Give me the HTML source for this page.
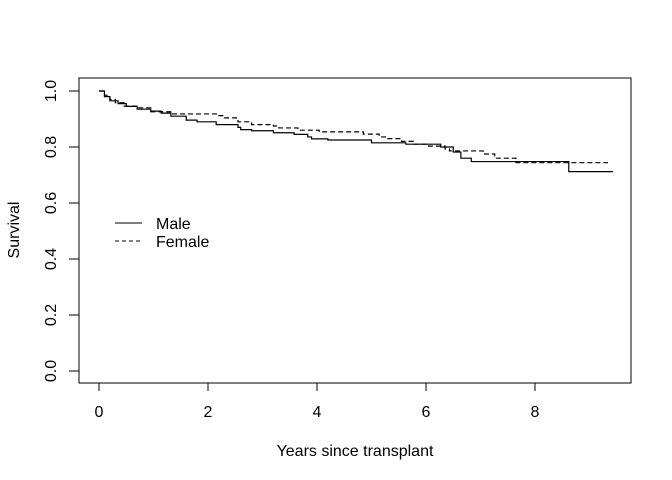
<!DOCTYPE html>
<html><head><meta charset="utf-8"><style>body{margin:0;background:#fff}svg{display:block}text{font-family:"Liberation Sans",Arial,sans-serif;font-size:16px;fill:#000}</style></head>
<body>
<svg id="chart" width="672" height="480" xmlns="http://www.w3.org/2000/svg">
<rect x="79" y="78" width="552" height="305" fill="none" stroke="#000"/>
<g id="axes"></g>
<g id="series"></g>
<text x="355" y="456" text-anchor="middle">Years since transplant</text>
<text transform="translate(19,230) rotate(-90)" text-anchor="middle">Survival</text>
<g>
<line x1="115" y1="223" x2="142" y2="223" stroke="#000"/>
<text x="156" y="229">Male</text>
<line x1="115" y1="241" x2="142" y2="241" stroke="#000" stroke-dasharray="4,3"/>
<text x="156" y="247">Female</text>
</g>
</svg>
<script>
const xTicks=[0,2,4,6,8];
const yTicks=[0,0.2,0.4,0.6,0.8,1.0];
const maleTimes=[0,0.1,0.2,0.35,0.5,0.7,0.95,1.14,1.32,1.6,1.8,2.15,2.55,2.6,2.8,3.2,3.58,3.83,3.9,4.2,5.0,5.63,6.27,6.5,6.64,6.83,8.62,9.43];
const maleSurv=[1,0.98,0.965,0.955,0.945,0.935,0.928,0.921,0.91,0.896,0.89,0.88,0.87,0.862,0.858,0.851,0.845,0.836,0.829,0.825,0.815,0.81,0.8,0.782,0.76,0.748,0.712,0.712];
const femaleTimes=[0,0.1,0.2,0.3,0.46,0.71,0.95,1.35,2.18,2.3,2.55,2.8,3.2,3.3,3.65,4.04,4.85,5.14,5.3,5.55,5.77,6.05,6.35,6.43,7.05,7.26,7.65,9.34];
const femaleSurv=[1,0.985,0.97,0.958,0.946,0.94,0.926,0.918,0.912,0.904,0.89,0.88,0.875,0.868,0.86,0.854,0.846,0.836,0.83,0.82,0.81,0.803,0.793,0.786,0.775,0.76,0.744,0.744];
const NS="http://www.w3.org/2000/svg";
const xs=t=>99+54.5*t, ys=s=>371-280*s;
const ax=document.getElementById('axes');
function mk(tag,attrs,parent){const e=document.createElementNS(NS,tag);for(const k in attrs)e.setAttribute(k,attrs[k]);parent.appendChild(e);return e;}
mk('line',{x1:xs(xTicks[0]),x2:xs(xTicks[xTicks.length-1]),y1:383,y2:383,stroke:'#000'},ax);
xTicks.forEach(v=>{
 const l=mk('line',{x1:xs(v),x2:xs(v),y1:383,y2:391,stroke:'#000'},ax);
 
 
 const t=mk('text',{x:xs(v),y:417,'text-anchor':'middle'},ax);t.textContent=v;
 
 
});
yTicks.forEach(v=>{
 const l=mk('line',{x1:69,x2:79,y1:ys(v),y2:ys(v),stroke:'#000'},ax);
 
 
 const t=mk('text',{transform:`translate(56,${ys(v)}) rotate(-90)`,'text-anchor':'middle'},ax);t.textContent=v.toFixed(1);
 
 
});
function step(T,S){let d=`M${xs(T[0])},${ys(S[0])}`;for(let i=1;i<T.length;i++){d+=` H${xs(T[i])} V${ys(S[i])}`;}return d;}
const sg=document.getElementById('series');
const m=mk('path',{d:step(maleTimes,maleSurv),fill:'none',stroke:'#000','stroke-width':1.2},sg);


const f=mk('path',{d:step(femaleTimes,femaleSurv),fill:'none',stroke:'#000','stroke-width':1.2,'stroke-dasharray':'5,3'},sg);


</script>
</body></html>
